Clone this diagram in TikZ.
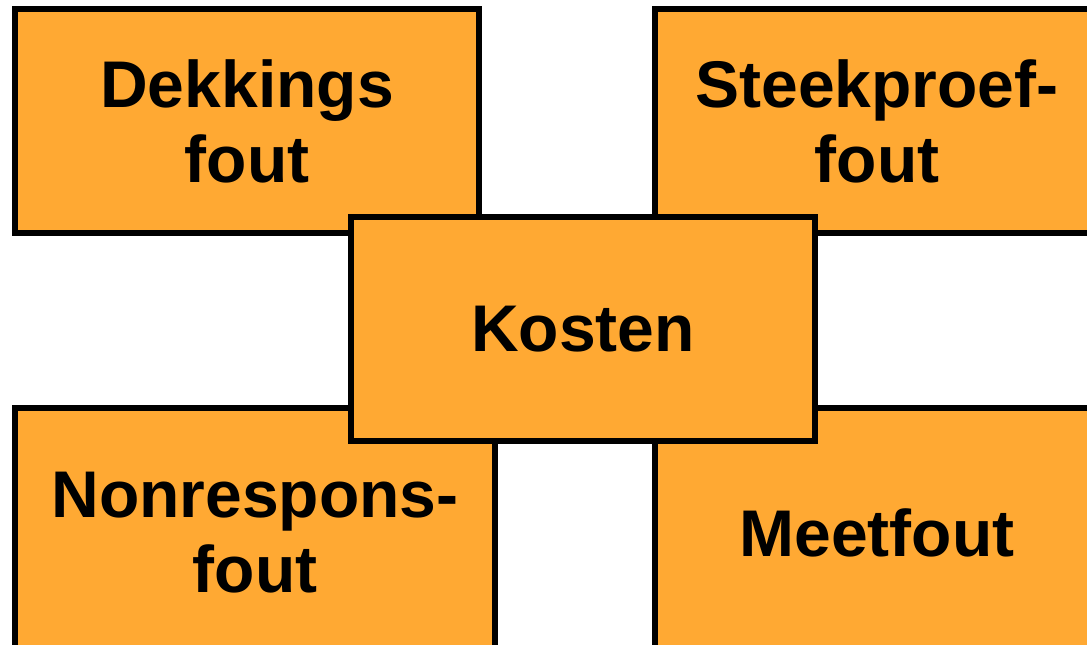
\documentclass[tikz,border=0pt]{standalone}
\usepackage{fontspec}
\setmainfont{Liberation Sans}
\definecolor{boxorange}{RGB}{255,169,51}
\tikzset{
  errbox/.style={draw=black, line width=6pt, fill=boxorange, rectangle,
    align=center, inner sep=0pt,
    font=\fontsize{66}{75}\selectfont\bfseries}
}
\begin{document}
\begin{tikzpicture}[x=1pt,y=1pt]
\useasboundingbox (0,0) rectangle (1087,645);
\clip (0,0) rectangle (1087,645);
% the four errors
\node[errbox, minimum width=464, minimum height=224] (dekking) at (247,524) {Dekkings\\fout};
\node[errbox, minimum width=444, minimum height=224] (steekproef) at (877,524) {Steekproef-\\fout};
\node[errbox, minimum width=480, minimum height=250] (nonrespons) at (255,112) {Nonrespons-\\fout};
\node[errbox, minimum width=444, minimum height=250] (meet) at (877,112) {Meetfout};
% costs in the middle
\node[errbox, minimum width=464, minimum height=224] (kosten) at (583,316) {Kosten};
\end{tikzpicture}
\end{document}
